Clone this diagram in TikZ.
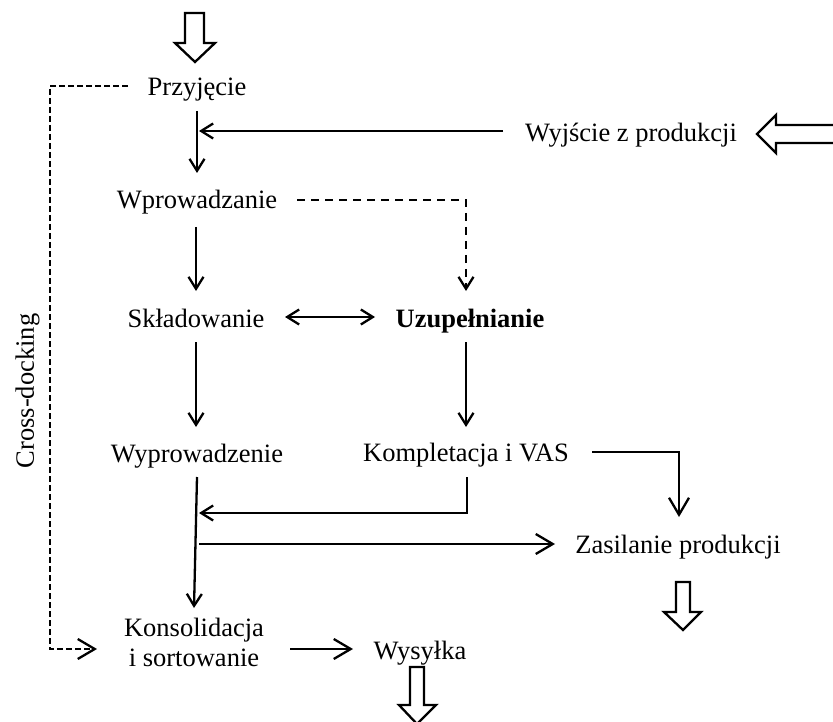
\documentclass[tikz,border=0pt]{standalone}
\usepackage{fontspec}
\setmainfont{Liberation Serif}
\usetikzlibrary{arrows.meta}
\begin{document}
\begin{tikzpicture}[x=1pt,y=-1pt,
  lbl/.style={anchor=base,inner sep=0pt,font=\fontsize{26.5}{30}\selectfont},
  conn/.style={line width=2.3pt},
  arr/.style={conn,-{Straight Barb[length=12pt,width=15pt,line width=2.3pt]}},
  bigarr/.style={conn,-{Straight Barb[length=17pt,width=20pt,line width=2.3pt]}},
  dbl/.style={conn,{Straight Barb[length=12pt,width=15pt,line width=2.3pt]}-{Straight Barb[length=12pt,width=15pt,line width=2.3pt]}},
  dsh/.style={dash pattern=on 8pt off 6pt},
  xdock/.style={dash pattern=on 6pt off 3pt},
  hollow/.style={line width=2.3pt,fill=white,line join=miter}]
\clip (0,0) rectangle (833,722);
\fill[white] (0,0) rectangle (833,722);

% labels
\node[lbl] (przy) at (197,96) {Przyjęcie};
\node[lbl] (wyj) at (631,142) {Wyjście z produkcji};
\node[lbl] (wpr) at (197,209) {Wprowadzanie};
\node[lbl] (skl) at (196,327) {Składowanie};
\node[lbl,font=\fontsize{26.5}{30}\selectfont\bfseries] (uzu) at (470,327) {Uzupełnianie};
\node[lbl] (wypr) at (197,462) {Wyprowadzenie};
\node[lbl] (komp) at (466,461) {Kompletacja i VAS};
\node[lbl] (zas) at (678,553) {Zasilanie produkcji};
\node[lbl,align=center,anchor=north] (kons) at (194,618) {Konsolidacja\\i sortowanie};
\node[lbl] (wys) at (420,659) {Wysyłka};
\node[lbl,rotate=90,anchor=base] (xd) at (34,391) {Cross-docking};

% connector end points
\coordinate (p1) at (197,111);  \coordinate (p2) at (197,173);
\coordinate (w1) at (503,131);  \coordinate (w2) at (199,131);
\coordinate (q1) at (196,227);  \coordinate (q2) at (196,291);
\coordinate (d1) at (297,200);  \coordinate (d2) at (466,200); \coordinate (d3) at (466,291);
\coordinate (s1) at (285,317);  \coordinate (s2) at (375,317);
\coordinate (s3) at (196,342);  \coordinate (s4) at (196,427);
\coordinate (u1) at (466,342);  \coordinate (u2) at (466,427);
\coordinate (k1) at (592,452);  \coordinate (k2) at (679,452); \coordinate (k3) at (679,517);
\coordinate (k4) at (467,477);  \coordinate (k5) at (467,513); \coordinate (k6) at (199,513);
\coordinate (y1) at (197,477);  \coordinate (y2) at (194,608);
\coordinate (z1) at (199,544);  \coordinate (z2) at (555,544);
\coordinate (c1) at (290,649);  \coordinate (c2) at (353,649);
\coordinate (x1) at (128,86);   \coordinate (x2) at (50,86); \coordinate (x3) at (50,649); \coordinate (x4) at (97,649);

% connectors
\draw[arr] (p1) -- (p2);
\draw[arr] (w1) -- (w2);
\draw[arr] (q1) -- (q2);
\draw[arr,dsh] (d1) -- (d2) -- (d3);
\draw[dbl] (s1) -- (s2);
\draw[arr] (s3) -- (s4);
\draw[arr] (u1) -- (u2);
\draw[bigarr] (k1) -- (k2) -- (k3);
\draw[arr] (k4) -- (k5) -- (k6);
\draw[arr] (y1) -- (y2);
\draw[bigarr] (z1) -- (z2);
\draw[bigarr] (c1) -- (c2);
\draw[bigarr,xdock] (x1) -- (x2) -- (x3) -- (x4);

% hollow block arrows
\draw[hollow] (185,13) -- (204,13) -- (204,43) -- (215,43) -- (195,62) -- (175,43) -- (185,43) -- cycle;
\draw[hollow] (845,125) -- (776,125) -- (776,115) -- (757,134) -- (776,153) -- (776,143) -- (845,143) -- cycle;
\draw[hollow] (676,582) -- (690,582) -- (690,612) -- (701,612) -- (683,630) -- (664,612) -- (676,612) -- cycle;
\draw[hollow] (410,667) -- (424,667) -- (424,705) -- (436,705) -- (417,724) -- (399,705) -- (410,705) -- cycle;
\end{tikzpicture}
\end{document}
